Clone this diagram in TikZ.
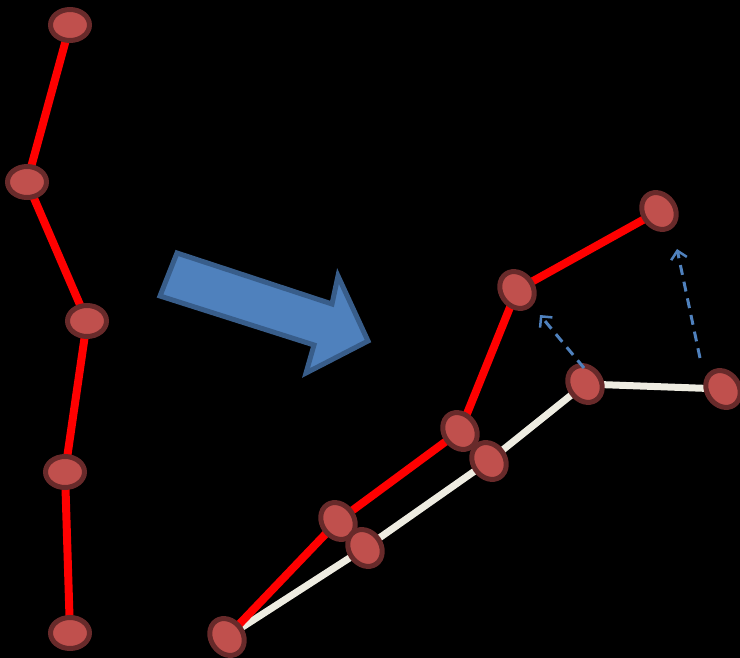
\documentclass[tikz,border=0pt]{standalone}
\usetikzlibrary{shapes.geometric,arrows.meta}
\definecolor{nodefill}{HTML}{C0504D}
\definecolor{nodeedge}{HTML}{682A2A}
\definecolor{bluefill}{HTML}{4F81BD}
\definecolor{blueedge}{HTML}{385D8A}
\definecolor{cream}{HTML}{EEECE1}
\begin{document}
\begin{tikzpicture}[x=1pt,y=-1pt,
  joint/.style={ellipse,draw=nodeedge,fill=nodefill,line width=5pt,inner sep=0pt,minimum width=39pt,minimum height=31pt},
  tjoint/.style={ellipse,draw=nodeedge,fill=nodefill,line width=5pt,inner sep=0pt,minimum width=39pt,minimum height=32pt,rotate=-55},
  redbone/.style={draw=red,line width=8pt},
  whitebone/.style={draw=cream,line width=7pt},
  motion/.style={draw=bluefill,line width=3pt,dash pattern=on 10pt off 7pt,-{Straight Barb[length=8pt,width=16pt,line width=2.5pt]}}]
\fill[black] (0,0) rectangle (740,658);
\useasboundingbox (0,0) rectangle (740,658);
% left chain
\coordinate (l1) at (70,25);
\coordinate (l2) at (27,182);
\coordinate (l3) at (87,321);
\coordinate (l4) at (65,472);
\coordinate (l5) at (70,633);
\draw[redbone] (l1) -- (l2) -- (l3) -- (l4) -- (l5);
% right chain coordinates
\coordinate (r0) at (227,637);
\coordinate (r1) at (338,521);
\coordinate (r2) at (460,431);
\coordinate (r3) at (517,290);
\coordinate (r4) at (659,211);
\coordinate (w1) at (365,548);
\coordinate (w2) at (489,461);
\coordinate (w3) at (585,384);
\coordinate (w4) at (723,389);
\draw[whitebone] (r0) -- (w1) -- (w2) -- (w3) -- (w4);
\draw[redbone] (r0) -- (r1) -- (r2) -- (r3) -- (r4);
% big arrow
\draw[blueedge,fill=bluefill,line width=5pt,line join=miter]
  (177,253) -- (332,304) -- (338,276) -- (368,341) -- (306,373) -- (314,345) -- (160,296) -- cycle;
% nodes
\node[joint] (n1) at (l1) {};
\node[joint] (n2) at (l2) {};
\node[joint] (n3) at (l3) {};
\node[joint] (n4) at (l4) {};
\node[joint] (n5) at (l5) {};
\node[tjoint] (m0) at (r0) {};
\node[tjoint] (m1) at (r1) {};
\node[tjoint] (m2) at (r2) {};
\node[tjoint] (m3) at (r3) {};
\node[tjoint] (m4) at (r4) {};
\node[tjoint] (k1) at (w1) {};
\node[tjoint] (k2) at (w2) {};
\node[tjoint] (k3) at (w3) {};
\node[tjoint] (k4) at (w4) {};
% dashed motion arrows
\coordinate (a1s) at (584,368);
\coordinate (a1e) at (540,315);
\coordinate (a2s) at (700,358);
\coordinate (a2e) at (677,249);
\draw[motion] (a1s) -- (a1e);
\draw[motion] (a2s) -- (a2e);
\end{tikzpicture}
\end{document}
